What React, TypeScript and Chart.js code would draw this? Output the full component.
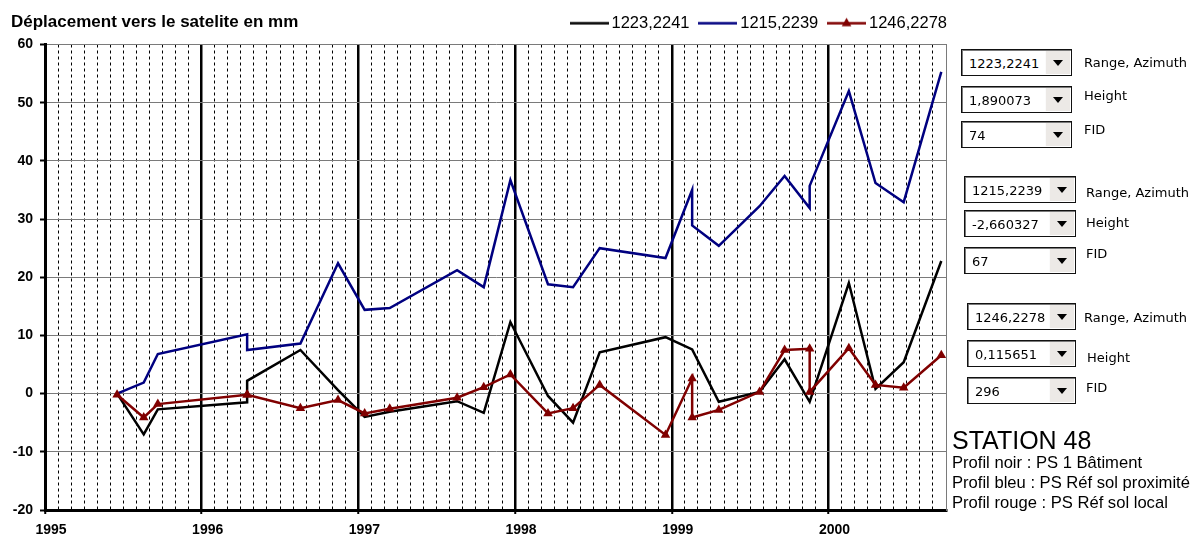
import React, { useEffect, useRef } from 'react';
import { Chart, registerables } from 'chart.js';

Chart.register(...registerables);

// Acquisition dates (decimal years) shared by the three profiles
const dates = [1995.46, 1995.63, 1995.72, 1996.29, 1996.29, 1996.63, 1996.87, 1997.04, 1997.2, 1997.63, 1997.8, 1997.97, 1998.21, 1998.37, 1998.54, 1998.96, 1999.13, 1999.13, 1999.3, 1999.56, 1999.72, 1999.88, 1999.88, 2000.13, 2000.3, 2000.48, 2000.72];

// Displacement towards the satellite (mm)
const blackValues = [0, -7.0, -2.7, -1.5, 2.2, 7.5, 0.6, -4.0, -3.1, -1.3, -3.3, 12.3, -0.4, -5.0, 7.1, 9.7, 7.6, 7.6, -1.4, 0.3, 5.9, -1.4, -1.4, 19.0, 0.8, 5.4, 22.8];
const blueValues = [0, 1.9, 6.8, 10.2, 7.5, 8.6, 22.4, 14.4, 14.7, 21.2, 18.3, 36.7, 18.8, 18.3, 25.0, 23.3, 35.0, 28.9, 25.4, 32.2, 37.4, 31.9, 35.7, 52.0, 36.2, 32.9, 55.3];
const redValues = [-0.2, -4.1, -1.8, -0.2, -0.2, -2.5, -1.1, -3.4, -2.6, -0.7, 1.1, 3.3, -3.4, -2.5, 1.5, -7.1, 2.6, -4.1, -2.8, 0.3, 7.5, 7.7, 0.3, 7.8, 1.5, 1.0, 6.6];

const seriesNames = ['1223,2241', '1215,2239', '1246,2278'];
const seriesColors = ['#000000', '#000080', '#800000'];

const yearTicks = [1995, 1996, 1997, 1998, 1999, 2000];
const xMin = 1995;
const xMax = 2000.75;
const yMin = -20;
const yMax = 60;
const yStep = 10;

const chartTitle = 'Déplacement vers le satelite en mm';

// Selector panel contents
const rangeAzimuthValues = ['1223,2241', '1215,2239', '1246,2278'];
const heightValues = ['1,890073', '-2,660327', '0,115651'];
const fidValues = ['74', '67', '296'];
const fieldLabels = ['Range, Azimuth', 'Height', 'FID'];
const stationName = 'STATION 48';
const profileNotes = [
  'Profil noir : PS 1 Bâtiment',
  'Profil bleu : PS Réf sol proximité',
  'Profil rouge : PS Réf sol local',
];

// Panel layout (pixels)
const groupLayout = [
  { left: 961, width: 111, tops: [49, 86, 121], labelX: [1084, 1084, 1084], labelY: [63, 96, 130] },
  { left: 964, width: 112, tops: [176, 210, 247], labelX: [1086, 1086, 1086], labelY: [193, 223, 254] },
  { left: 967, width: 109, tops: [303, 340, 377], labelX: [1084, 1087, 1086], labelY: [318, 358, 388] },
];

const FONT = '"Liberation Sans", Arial, sans-serif';
const UI_FONT = '"DejaVu Sans", Verdana, sans-serif';

function makeLegendImage(color: string, withTriangle: boolean): HTMLCanvasElement {
  const c = document.createElement('canvas');
  c.width = 39;
  c.height = 13;
  const ctx = c.getContext('2d')!;
  ctx.strokeStyle = color;
  ctx.lineWidth = 2.5;
  ctx.beginPath();
  ctx.moveTo(0, 6.5);
  ctx.lineTo(39, 6.5);
  ctx.stroke();
  if (withTriangle) {
    ctx.fillStyle = color;
    ctx.beginPath();
    ctx.moveTo(19.5, 1);
    ctx.lineTo(24.3, 9.5);
    ctx.lineTo(14.7, 9.5);
    ctx.closePath();
    ctx.fill();
  }
  return c;
}

function ComboBox(props: { left: number; top: number; width: number; height: number; text: string }) {
  const { left, top, width, height, text } = props;
  return (
    <div
      style={{
        position: 'absolute',
        left,
        top,
        width,
        height,
        boxSizing: 'border-box',
        border: '1px solid #111',
        boxShadow: 'inset 1px 1px 0 #7a7a7a',
        background: '#fff',
      }}
    >
      <span
        style={{
          position: 'absolute',
          left: 7,
          top: 2,
          lineHeight: `${height - 4}px`,
          fontFamily: UI_FONT,
          fontSize: 13,
          color: '#000',
          whiteSpace: 'nowrap',
        }}
      >
        {text}
      </span>
      <div
        style={{
          position: 'absolute',
          right: 1,
          top: 1,
          bottom: 1,
          width: 24,
          background: '#ece9e6',
          borderLeft: '1px solid #fbfbfb',
        }}
      >
        <div
          style={{
            position: 'absolute',
            left: '50%',
            top: '50%',
            marginLeft: -5,
            marginTop: -3,
            width: 0,
            height: 0,
            borderLeft: '5px solid transparent',
            borderRight: '5px solid transparent',
            borderTop: '6px solid #000',
          }}
        />
      </div>
    </div>
  );
}

export default function App() {
  const canvasRef = useRef<HTMLCanvasElement | null>(null);

  useEffect(() => {
    if (!canvasRef.current) return;
    const legendImages = [
      makeLegendImage(seriesColors[0], false),
      makeLegendImage(seriesColors[1], false),
      makeLegendImage(seriesColors[2], true),
    ];
    const toPoints = (vals: number[]) => vals.map((v, i) => ({ x: dates[i], y: v }));
    const monthTicks: { value: number }[] = [];
    for (let k = 1; k < Math.round((xMax - xMin) * 12); k++) {
      if (k % 12 !== 0) monthTicks.push({ value: xMin + k / 12 });
    }

    const chart = new Chart(canvasRef.current, {
      type: 'line',
      data: {
        datasets: [
          {
            label: seriesNames[0],
            data: toPoints(blackValues),
            borderColor: seriesColors[0],
            backgroundColor: seriesColors[0],
            borderWidth: 2.5,
            pointRadius: 0,
            tension: 0,
            order: 3,
            xAxisID: 'x',
            yAxisID: 'y',
          },
          {
            label: seriesNames[1],
            data: toPoints(blueValues),
            borderColor: seriesColors[1],
            backgroundColor: seriesColors[1],
            borderWidth: 2.5,
            pointRadius: 0,
            tension: 0,
            order: 2,
            xAxisID: 'x',
            yAxisID: 'y',
          },
          {
            label: seriesNames[2],
            data: toPoints(redValues),
            borderColor: seriesColors[2],
            backgroundColor: seriesColors[2],
            borderWidth: 2.5,
            pointStyle: 'triangle',
            pointRadius: 5.5,
            pointBorderWidth: 0,
            tension: 0,
            order: 1,
            xAxisID: 'x',
            yAxisID: 'y',
          },
        ],
      },
      options: {
        animation: false,
        responsive: false,
        devicePixelRatio: 1,
        events: [],
        layout: { padding: { top: 1, right: 236, left: 0, bottom: 0 } },
        plugins: {
          tooltip: { enabled: false },
          title: { display: false },
          legend: {
            display: true,
            position: 'top',
            align: 'end',
            labels: {
              usePointStyle: true,
              pointStyleWidth: 28.5,
              padding: 14,
              color: '#000',
              font: { family: FONT, size: 16.5 },
              generateLabels: (c: any) => {
                const items = Chart.defaults.plugins.legend.labels.generateLabels(c);
                items.sort((a: any, b: any) => a.datasetIndex - b.datasetIndex);
                return items.map((it: any) => ({ ...it, pointStyle: legendImages[it.datasetIndex] }));
              },
            },
          },
        },
        scales: {
          x: {
            type: 'linear',
            position: 'bottom',
            min: xMin,
            max: xMax,
            afterBuildTicks: (s: any) => {
              s.ticks = yearTicks.map((v) => ({ value: v }));
            },
            afterFit: (s: any) => {
              s.height = 28;
            },
            grid: {
              color: '#000',
              lineWidth: 2.5,
              drawTicks: true,
              tickLength: 4,
              tickColor: '#000',
              tickWidth: 2,
            },
            border: { display: true, color: '#000', width: 3 },
            ticks: {
              autoSkip: false,
              maxRotation: 0,
              padding: 8,
              labelOffset: 6,
              color: '#000',
              font: { family: FONT, size: 14, weight: 'bold' },
              callback: (v: any) => String(Math.round(Number(v))),
            },
          },
          xm: {
            type: 'linear',
            position: 'bottom',
            axis: 'x',
            min: xMin,
            max: xMax,
            afterBuildTicks: (s: any) => {
              s.ticks = monthTicks.slice();
            },
            afterFit: (s: any) => {
              s.height = 0;
            },
            grid: { color: '#000', lineWidth: 1, drawTicks: false },
            border: { display: false, dash: [3, 3] },
            ticks: { display: false },
          },
          xt: {
            type: 'linear',
            position: 'top',
            axis: 'x',
            afterFit: (s: any) => {
              s.height = 3;
            },
            grid: { display: false, drawTicks: false },
            border: { display: false },
            ticks: { display: false },
          },
          y: {
            type: 'linear',
            position: 'left',
            min: yMin,
            max: yMax,
            ticks: {
              stepSize: yStep,
              padding: 7,
              color: '#000',
              font: { family: FONT, size: 14, weight: 'bold' },
            },
            afterFit: (s: any) => {
              s.width = 45;
            },
            grid: {
              color: '#7a7a7a',
              lineWidth: 1,
              drawTicks: true,
              tickLength: 5,
              tickColor: '#000',
              tickWidth: 2,
            },
            border: { display: true, color: '#000', width: 3 },
          },
          yr: {
            type: 'linear',
            position: 'right',
            axis: 'y',
            min: yMin,
            max: yMax,
            afterFit: (s: any) => {
              s.width = 15;
            },
            grid: { display: false, drawTicks: false },
            border: { display: true, color: '#7a7a7a', width: 1 },
            ticks: { display: false },
          },
        },
      } as any,
    });
    return () => chart.destroy();
  }, []);

  return (
    <div style={{ position: 'absolute', left: 0, top: 0, width: 1197, height: 538, background: '#fff', overflow: 'hidden' }}>
      <canvas ref={canvasRef} width={1197} height={538} style={{ position: 'absolute', left: 0, top: 0, width: 1197, height: 538 }} />
      <div
        style={{
          position: 'absolute',
          left: 11,
          top: 13,
          fontFamily: FONT,
          fontSize: 17,
          fontWeight: 'bold',
          lineHeight: '17px',
          color: '#000',
          whiteSpace: 'nowrap',
        }}
      >
        {chartTitle}
      </div>
      {groupLayout.map((g, gi) => {
        const texts = [rangeAzimuthValues[gi], heightValues[gi], fidValues[gi]];
        return (
          <React.Fragment key={gi}>
            {texts.map((t, ri) => (
              <ComboBox key={'b' + ri} left={g.left} top={g.tops[ri]} width={g.width} height={27} text={t} />
            ))}
            {fieldLabels.map((lab, ri) => (
              <div
                key={'l' + ri}
                style={{
                  position: 'absolute',
                  left: g.labelX[ri],
                  top: g.labelY[ri] - 8,
                  lineHeight: '16px',
                  fontFamily: UI_FONT,
                  fontSize: 13,
                  color: '#000',
                  whiteSpace: 'nowrap',
                }}
              >
                {lab}
              </div>
            ))}
          </React.Fragment>
        );
      })}
      <div
        style={{
          position: 'absolute',
          left: 952,
          top: 428,
          fontFamily: FONT,
          fontSize: 25,
          lineHeight: '25px',
          color: '#000',
          whiteSpace: 'nowrap',
        }}
      >
        {stationName}
      </div>
      {profileNotes.map((t, i) => (
        <div
          key={i}
          style={{
            position: 'absolute',
            left: 952,
            top: 453 + i * 20,
            fontFamily: FONT,
            fontSize: 16.6,
            lineHeight: '20px',
            color: '#000',
            whiteSpace: 'nowrap',
          }}
        >
          {t}
        </div>
      ))}
    </div>
  );
}
